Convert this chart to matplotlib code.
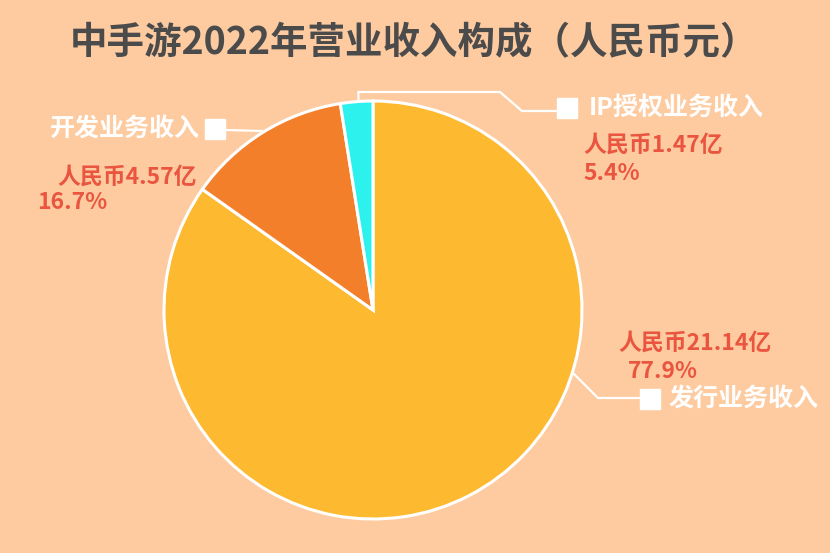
import matplotlib
matplotlib.use("Agg")
import matplotlib.pyplot as plt
import numpy as np

plt.rcParams['font.family'] = ['Noto Sans CJK SC', 'DejaVu Sans']

# ---- data ----
categories = ['发行业务收入', '开发业务收入', 'IP授权业务收入']
revenue_label = ['人民币21.14亿', '人民币4.57亿', '人民币1.47亿']
percent_label = ['77.9%', '16.7%', '5.4%']
# slice shares as drawn in the reference picture
slice_shares = [84.8, 12.7, 2.5]
colors = ['#FDB92F', '#F47F2A', '#2DF1EC']
title = '中手游2022年营业收入构成（人民币元）'

BG = '#FDCB9F'
RED = '#EA5540'
W, H = 830, 553
CX, CY, R = 373, 310, 209   # pie centre / radius in pixels

fig = plt.figure(figsize=(W / 100, H / 100), dpi=100, facecolor=BG)
ax = fig.add_axes([0, 0, 1, 1])
ax.set_facecolor(BG)

wedges, _ = ax.pie(slice_shares, colors=colors, startangle=90, counterclock=False,
                   radius=1, center=(0, 0), frame=True,
                   wedgeprops=dict(edgecolor='white', linewidth=2.2))
ax.set_aspect('auto')
ax.set_xlim(-CX / R, (W - CX) / R)
ax.set_ylim(-(H - CY) / R, CY / R)
ax.axis('off')

def P(px, py):
    return ((px - CX) / R, (CY - py) / R)

def edge(theta):
    t = np.deg2rad(theta)
    return (np.cos(t), np.sin(t))

# title
ax.text(*P(414, 43), title, ha='center', va='center', fontsize=27,
        fontweight='bold', color='#4B4B4B')

lw = 1.6
FS_W = 18
FS_R = 16.5
# --- IP licensing (cyan) leader ---
s = edge(94)
pts = [s, (s[0], P(0, 92)[1]), P(500, 92), P(522, 111), P(557, 111)]
ax.plot([p[0] for p in pts], [p[1] for p in pts], color='white', lw=lw, solid_joinstyle='miter')
ax.add_patch(plt.Rectangle(P(557, 118), 20 / R, 20 / R, color='white'))
ax.text(*P(589, 108), categories[2], ha='left', va='center', fontsize=FS_W,
        fontweight='bold', color='white')
ax.text(*P(583, 145), revenue_label[2], ha='left', va='center', fontsize=FS_R,
        fontweight='bold', color=RED)
ax.text(*P(583, 174), percent_label[2], ha='left', va='center', fontsize=FS_R,
        fontweight='bold', color=RED)

# --- development (orange) leader ---
pts = [P(226, 130), P(262, 131)]
ax.plot([p[0] for p in pts], [p[1] for p in pts], color='white', lw=lw)
ax.add_patch(plt.Rectangle(P(205, 139), 20 / R, 20 / R, color='white'))
ax.text(*P(200, 129), categories[1], ha='right', va='center', fontsize=FS_W,
        fontweight='bold', color='white')
ax.text(*P(57, 177), revenue_label[1], ha='left', va='center', fontsize=FS_R,
        fontweight='bold', color=RED)
ax.text(*P(37, 203), percent_label[1], ha='left', va='center', fontsize=FS_R,
        fontweight='bold', color=RED)

# --- publishing (yellow) leader ---
pts = [P(572, 372), P(598, 398), P(641, 398)]
ax.plot([p[0] for p in pts], [p[1] for p in pts], color='white', lw=lw)
ax.add_patch(plt.Rectangle(P(640, 409), 20 / R, 20 / R, color='white'))
ax.text(*P(669, 399), categories[0], ha='left', va='center', fontsize=FS_W,
        fontweight='bold', color='white')
ax.text(*P(618, 343), revenue_label[0], ha='left', va='center', fontsize=FS_R,
        fontweight='bold', color=RED)
ax.text(*P(628, 371), percent_label[0], ha='left', va='center', fontsize=FS_R,
        fontweight='bold', color=RED)

fig.savefig('out.png', dpi=100, facecolor=BG)
